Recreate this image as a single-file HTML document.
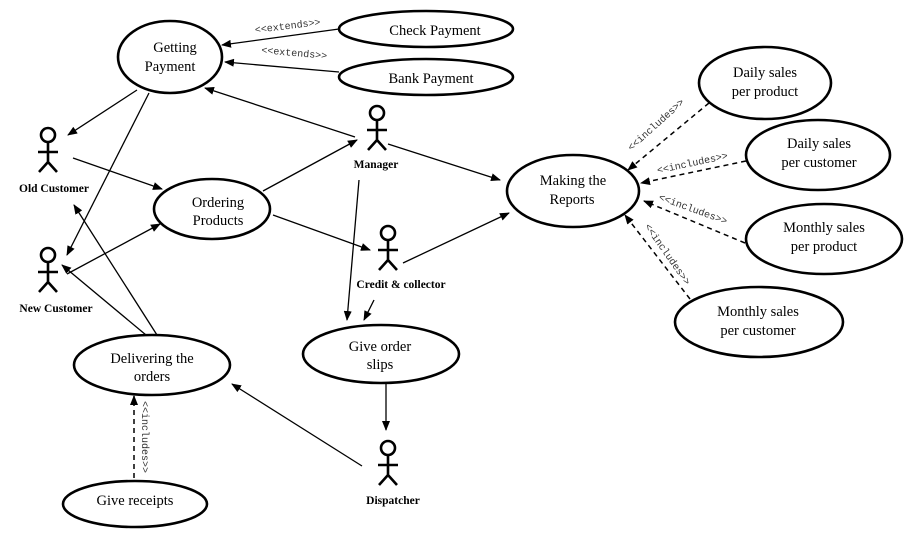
<!DOCTYPE html>
<html><head><meta charset="utf-8"><style>
html,body{margin:0;padding:0;background:#fff;}
svg{display:block;}
.e{fill:#fff;stroke:#000;stroke-width:2.6;}
.t{font-family:"Liberation Serif",serif;font-size:14.5px;text-anchor:middle;fill:#000;}
.a{font-family:"Liberation Serif",serif;font-size:11.5px;font-weight:bold;text-anchor:middle;}
.m{font-family:"Liberation Mono",monospace;font-size:10px;fill:#333;text-anchor:middle;}
.l{stroke:#000;stroke-width:1.3;fill:none;marker-end:url(#ah);}
.d{stroke:#000;stroke-width:1.5;fill:none;stroke-dasharray:5,4;marker-end:url(#ah);}
.f{stroke:#000;stroke-width:2.6;fill:none;}
</style></head><body>
<svg width="920" height="547" viewBox="0 0 920 547" xmlns="http://www.w3.org/2000/svg">
<defs><marker id="ah" markerWidth="10" markerHeight="8" refX="9" refY="4" orient="auto" markerUnits="userSpaceOnUse"><path d="M0,0 L10,4 L0,8 z" fill="#000"/></marker>
<g id="act"><circle cx="0" cy="0" r="7" class="f"/><path d="M0,7 V27 M-10,17 H10 M0,27 L-9,37 M0,27 L9,37" class="f"/></g></defs>

<!-- connectors -->
<line class="l" x1="339" y1="29" x2="222" y2="45"/>
<line class="l" x1="339" y1="72" x2="225" y2="62"/>
<line class="l" x1="355" y1="137" x2="205" y2="88"/>
<line class="l" x1="137" y1="90" x2="68" y2="135"/>
<line class="l" x1="149" y1="93" x2="67" y2="255"/>
<line class="l" x1="73" y1="158" x2="162" y2="189"/>
<line class="l" x1="67" y1="274" x2="160" y2="224"/>
<line class="l" x1="263" y1="191" x2="357" y2="140"/>
<line class="l" x1="273" y1="215" x2="370" y2="250"/>
<line class="l" x1="388" y1="144" x2="500" y2="180"/>
<line class="l" x1="403" y1="263" x2="509" y2="213"/>
<line class="l" x1="359" y1="180" x2="347" y2="320"/>
<line class="l" x1="374" y1="300" x2="364" y2="320"/>
<line class="l" x1="386" y1="384" x2="386" y2="430"/>
<line class="l" x1="362" y1="466" x2="232" y2="384"/>
<line class="l" x1="146" y1="335" x2="62" y2="265"/>
<line class="l" x1="157" y1="335" x2="74" y2="205"/>
<line class="d" x1="134" y1="478" x2="134" y2="396"/>
<line class="d" x1="709" y1="103" x2="628" y2="170"/>
<line class="d" x1="746" y1="161" x2="641" y2="183"/>
<line class="d" x1="745" y1="243" x2="644" y2="201"/>
<line class="d" x1="690" y1="299" x2="625" y2="215"/>

<text class="m" transform="translate(288,29) rotate(-7)">&lt;&lt;extends&gt;&gt;</text>
<text class="m" transform="translate(294,56) rotate(5)">&lt;&lt;extends&gt;&gt;</text>
<text class="m" transform="translate(658,127) rotate(-42)">&lt;&lt;includes&gt;&gt;</text>
<text class="m" transform="translate(693,166) rotate(-12)">&lt;&lt;includes&gt;&gt;</text>
<text class="m" transform="translate(692,212) rotate(20)">&lt;&lt;includes&gt;&gt;</text>
<text class="m" transform="translate(665,256) rotate(55)">&lt;&lt;includes&gt;&gt;</text>
<text class="m" transform="translate(142,437) rotate(90)">&lt;&lt;includes&gt;&gt;</text>

<!-- ellipses -->
<ellipse class="e" cx="170" cy="57" rx="52" ry="36"/>
<text class="t" x="175" y="52">Getting</text><text class="t" x="170" y="71">Payment</text>
<ellipse class="e" cx="426" cy="29" rx="87" ry="18"/>
<text class="t" x="435" y="35">Check Payment</text>
<ellipse class="e" cx="426" cy="77" rx="87" ry="18"/>
<text class="t" x="431" y="83">Bank Payment</text>
<ellipse class="e" cx="212" cy="209" rx="58" ry="30"/>
<text class="t" x="218" y="207">Ordering</text><text class="t" x="218" y="225">Products</text>
<ellipse class="e" cx="573" cy="191" rx="66" ry="36"/>
<text class="t" x="573" y="185">Making the</text><text class="t" x="572" y="204">Reports</text>
<ellipse class="e" cx="765" cy="83" rx="66" ry="36"/>
<text class="t" x="765" y="77">Daily sales</text><text class="t" x="765" y="96">per product</text>
<ellipse class="e" cx="818" cy="155" rx="72" ry="35"/>
<text class="t" x="819" y="148">Daily sales</text><text class="t" x="819" y="167">per customer</text>
<ellipse class="e" cx="824" cy="239" rx="78" ry="35"/>
<text class="t" x="824" y="232">Monthly sales</text><text class="t" x="824" y="251">per product</text>
<ellipse class="e" cx="759" cy="322" rx="84" ry="35"/>
<text class="t" x="758" y="316">Monthly sales</text><text class="t" x="758" y="335">per customer</text>
<ellipse class="e" cx="152" cy="365" rx="78" ry="30"/>
<text class="t" x="152" y="363">Delivering the</text><text class="t" x="152" y="381">orders</text>
<ellipse class="e" cx="381" cy="354" rx="78" ry="29"/>
<text class="t" x="380" y="351">Give order</text><text class="t" x="380" y="369">slips</text>
<ellipse class="e" cx="135" cy="504" rx="72" ry="23"/>
<text class="t" x="135" y="505">Give receipts</text>

<!-- actors -->
<use href="#act" x="48" y="135"/><text class="a" x="54" y="192">Old Customer</text>
<use href="#act" x="48" y="255"/><text class="a" x="56" y="312">New Customer</text>
<use href="#act" x="377" y="113"/><text class="a" x="376" y="168">Manager</text>
<use href="#act" x="388" y="233"/><text class="a" x="401" y="288">Credit &amp; collector</text>
<use href="#act" x="388" y="448"/><text class="a" x="393" y="504">Dispatcher</text>
</svg>
</body></html>
